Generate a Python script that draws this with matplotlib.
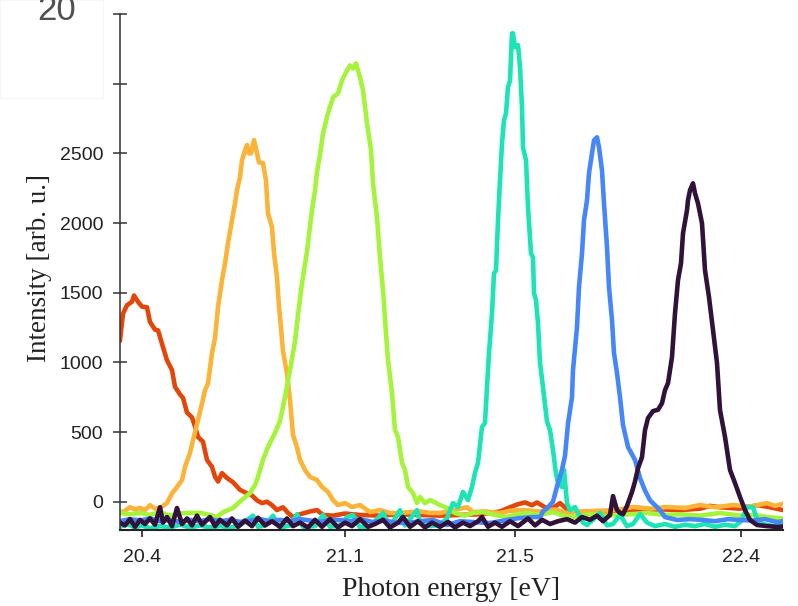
"""
Photoemission spectra: six harmonic peaks vs photon energy.
Values read off the reference picture (x in detector channel units).
"""
import matplotlib
matplotlib.use("Agg")
import matplotlib.pyplot as plt
from matplotlib.patches import Rectangle

plt.rcParams.update({"font.family": "Liberation Sans", "font.size": 14})

# ---------------------------------------------------------------
# data (x = channel, y = intensity in arb. u.)
# ---------------------------------------------------------------
red_x = [120, 123, 127, 132, 134, 138, 142, 147, 150, 155, 158, 163, 167, 172, 175,
         180, 183, 187, 192, 195, 198, 203, 207, 212, 215, 218, 222, 227, 233, 240,
         247, 252, 257, 262, 267, 272, 277, 283, 288, 293, 300, 310, 317, 323, 333,
         345, 360, 380, 400, 420, 440, 460, 480, 500, 510, 517, 525, 532, 537, 545,
         552, 560, 568, 580, 600, 620, 640, 660, 680, 700, 710, 720, 740, 758, 770, 783]
red_y = [1160, 1350, 1410, 1435, 1480, 1435, 1400, 1395, 1290, 1235, 1230, 1110, 1015, 945, 825,
         770, 745, 640, 605, 540, 465, 430, 300, 250, 180, 145, 205, 170, 140, 85,
         60, 45, 10, -10, 0, -25, -60, -40, -80, -110, -90, -70, -60, -95, -100,
         -85, -95, -100, -90, -95, -100, -95, -90, -70, -40, -20, -5, -25, -5, -40,
         -50, -10, -60, -80, -75, -70, -60, -55, -60, -50, -30, -40, -50, -25, -40, -60]

orange_x = [120, 123, 130, 135, 140, 145, 150, 155, 160, 167, 172, 177, 182, 185, 190,
            193, 198, 202, 205, 208, 212, 215, 218, 222, 225, 228, 232, 235, 237, 240,
            242, 245, 247, 249, 251, 254, 257, 259, 263, 266, 268, 272, 274, 277, 279,
            281, 283, 287, 290, 293, 297, 300, 305, 310, 317, 322, 328, 333, 338, 345,
            352, 360, 370, 380, 390, 400, 410, 420, 430, 440, 450, 467, 473, 485, 500,
            510, 523, 540, 555, 567, 580, 600, 617, 633, 650, 667, 685, 700, 715, 733,
            750, 767, 775, 783]
orange_y = [-70, -75, -40, -55, -45, -60, -25, -50, -45, -10, 60, 105, 155, 250, 350,
            440, 585, 705, 800, 850, 1065, 1175, 1395, 1590, 1710, 1855, 2020, 2140, 2235, 2330,
            2450, 2520, 2560, 2500, 2500, 2595, 2500, 2435, 2430, 2305, 2070, 1970, 1785, 1610, 1400,
            1250, 1080, 920, 730, 480, 390, 300, 228, 178, 156, 106, 70, 12, -24, -10,
            -38, -24, -74, -60, -81, -81, -75, -70, -80, -81, -65, -40, -74, -70, -81,
            -65, -60, -70, -55, -81, -70, -65, -60, -38, -50, -38, -45, -24, -40, -24,
            -35, -10, -30, -15]

green_x = [120, 130, 140, 150, 160, 170, 180, 190, 200, 210, 217, 223, 233, 243, 250,
           255, 258, 263, 268, 275, 280, 285, 290, 295, 298, 302, 307, 312, 315, 317,
           320, 323, 328, 333, 338, 342, 347, 350, 353, 356, 360, 363, 367, 371, 373,
           377, 380, 383, 386, 388, 392, 395, 398, 402, 405, 408, 413, 417, 420, 425,
           430, 435, 440, 447, 455, 465, 473, 483, 495, 507, 517, 527, 540, 553, 563,
           573, 590, 605, 620, 647, 665, 680, 700, 720, 740, 755, 767, 783]
green_y = [-80, -90, -80, -95, -75, -100, -85, -80, -80, -95, -110, -75, -45, 20, 62,
           120, 178, 300, 393, 493, 580, 751, 945, 1150, 1340, 1567, 1795, 2092, 2235, 2365,
           2490, 2644, 2787, 2902, 2930, 3023, 3095, 3131, 3109, 3145, 3045, 2952, 2716, 2522, 2285,
           2041, 1754, 1518, 1209, 1017, 780, 514, 465, 279, 228, 106, 62, -10, 34, -10,
           12, -5, -24, -45, -81, -100, -81, -74, -95, -110, -90, -81, -95, -74, -100,
           -110, -90, -100, -95, -81, -95, -90, -100, -81, -100, -95, -110, -120]

teal_x = [120, 127, 135, 142, 150, 160, 170, 180, 190, 200, 210, 220, 230, 240, 253,
          258, 265, 273, 280, 290, 297, 303, 315, 323, 330, 340, 347, 353, 360, 370,
          383, 390, 400, 405, 417, 420, 430, 440, 447, 450, 453, 458, 463, 468, 472,
          475, 478, 482, 485, 487, 489, 492, 494, 496, 498, 500, 502, 504, 506, 508,
          510, 512, 513, 515, 518, 520, 522, 523, 526, 528, 531, 533, 534, 536, 538,
          540, 543, 547, 550, 553, 556, 558, 562, 564, 567, 570, 575, 578, 583, 587,
          593, 600, 607, 613, 620, 627, 633, 640, 647, 655, 665, 675, 685, 695, 705,
          715, 725, 735, 741, 747, 753, 758, 767, 775, 783]
teal_y = [-180, -160, -185, -170, -190, -175, -185, -165, -185, -170, -185, -175, -185, -170, -100,
          -180, -170, -100, -185, -170, -90, -180, -175, -95, -180, -170, -110, -95, -185, -175,
          -81, -180, -60, -170, -60, -146, -175, -165, -120, -60, -10, -38, 70, 12, 106,
          207, 279, 536, 565, 823, 1066, 1352, 1639, 1661, 2020, 2307, 2572, 2737, 2787, 2974,
          3023, 3361, 3361, 3262, 3276, 3120, 2830, 2543, 2450, 2113, 1783, 1754, 1496, 1446, 1281,
          1000, 820, 575, 514, 371, 200, 134, 106, 228, -10, -60, -38, -81, -150, -167,
          -130, -81, -170, -160, -95, -175, -160, -88, -150, -175, -160, -180, -165, -175, -160,
          -180, -165, -175, -140, -38, -40, -150, -167, -175, -170]

blue_x = [120, 130, 140, 150, 160, 170, 180, 190, 200, 210, 220, 230, 240, 250, 260,
          270, 280, 290, 300, 310, 320, 330, 340, 350, 360, 373, 385, 395, 407, 420,
          433, 447, 460, 473, 490, 507, 520, 533, 540, 543, 548, 553, 557, 562, 565,
          568, 572, 573, 577, 579, 582, 584, 587, 589, 592, 594, 597, 599, 602, 604,
          607, 609, 612, 614, 617, 620, 623, 628, 635, 640, 645, 650, 655, 660, 665,
          677, 690, 703, 715, 728, 740, 753, 765, 777, 783]
blue_y = [-140, -125, -135, -120, -140, -130, -145, -130, -140, -125, -140, -130, -145, -135, -125,
          -140, -130, -140, -125, -135, -145, -130, -131, -140, -125, -146, -135, -150, -153, -140,
          -131, -167, -140, -146, -153, -131, -117, -110, -110, -70, -40, 0, 110, 230, 330,
          560, 751, 945, 1253, 1540, 1783, 2020, 2163, 2357, 2500, 2594, 2615, 2543, 2378, 2141,
          1826, 1540, 1303, 1066, 923, 750, 550, 393, 300, 170, 80, 10, -25, -60, -110,
          -131, -125, -131, -140, -125, -131, -135, -125, -146, -140]

purple_x = [120, 125, 130, 135, 140, 145, 150, 155, 160, 163, 167, 172, 177, 182, 187,
            192, 197, 202, 210, 215, 220, 227, 232, 238, 245, 252, 258, 265, 272, 280,
            287, 293, 300, 308, 315, 322, 330, 338, 345, 352, 360, 368, 375, 383, 390,
            398, 403, 410, 418, 425, 432, 440, 448, 455, 463, 470, 478, 482, 488, 495,
            502, 510, 518, 528, 535, 542, 550, 558, 567, 575, 582, 590, 597, 603, 610,
            613, 617, 620, 623, 627, 632, 635, 638, 642, 645, 648, 653, 658, 662, 665,
            668, 672, 675, 678, 681, 683, 687, 688, 690, 693, 695, 698, 702, 705, 709,
            713, 717, 720, 725, 730, 735, 740, 745, 750, 757, 767, 777, 783]
purple_y = [-150, -170, -125, -180, -130, -160, -120, -165, -40, -150, -110, -175, -45, -160, -120,
            -170, -100, -165, -110, -175, -130, -170, -120, -180, -135, -175, -115, -170, -140, -180,
            -120, -175, -150, -185, -130, -180, -125, -185, -150, -175, -125, -180, -160, -130, -185,
            -150, -110, -180, -140, -185, -150, -180, -145, -185, -150, -175, -140, -110, -180, -150,
            -180, -140, -175, -120, -170, -130, -160, -140, -125, -150, -110, -130, -100, -140, -95,
            40, -60, -80, -90, -30, 70, 145, 240, 320, 514, 600, 650, 660, 707, 801,
            851, 1038, 1352, 1590, 1711, 1926, 2092, 2163, 2235, 2285, 2213, 2141, 1998, 1661, 1468,
            1232, 995, 658, 465, 228, 134, 34, -60, -131, -167, -175, -181, -178]

series = [
    (red_x, red_y, "#e4460a"),
    (orange_x, orange_y, "#fbb338"),
    (green_x, green_y, "#a5f43b"),
    (teal_x, teal_y, "#1ce4b4"),
    (blue_x, blue_y, "#4686fb"),
    (purple_x, purple_y, "#30123b"),
]

xtick_pos = [142, 345, 515, 741]
xtick_labels = ["20.4", "21.1", "21.5", "22.4"]
ytick_pos = [0, 500, 1000, 1500, 2000, 2500, 3000, 3500]
# the two top labels sit under the pasted white patch in the reference
ytick_labels = ["0", "500", "1000", "1500", "2000", "2500", "", ""]

# ---------------------------------------------------------------
# figure
# ---------------------------------------------------------------
W, H = 798, 606
fig = plt.figure(figsize=(W / 100, H / 100), dpi=100)
ax = fig.add_axes([120 / W, 1 - 530 / H, 663 / W, 516 / H])

for xs, ys, c in series:
    ax.plot(xs, ys, color=c, lw=3.3)

ax.set_xlim(120, 783)
ax.set_ylim(-203, 3500)
ax.set_xticks(xtick_pos)
ax.set_xticklabels(xtick_labels)
ax.set_yticks(ytick_pos)
ax.set_yticklabels(ytick_labels)

for s in ("top", "right"):
    ax.spines[s].set_visible(False)
ax.spines["left"].set_color("#333333")
ax.spines["left"].set_linewidth(1.1)
ax.spines["bottom"].set_color("#222222")
ax.spines["bottom"].set_linewidth(1.5)

ax.tick_params(axis="y", direction="inout", length=10, width=1.1, pad=7,
               colors="#333333", labelcolor="#222222", labelsize=14)
ax.tick_params(axis="x", direction="out", length=5, width=1.2, pad=9,
               colors="#222222", labelcolor="#222222", labelsize=14)

fig.text(451 / W, 1 - 590 / H, "Photon energy [eV]", family="Liberation Serif",
         fontsize=20, ha="center", va="center", color="#222222")
fig.text(40 / W, 1 - 268 / H, "Intensity [arb. u.]", family="Liberation Serif",
         fontsize=19.5, ha="center", va="center", rotation=90, color="#222222")

# white patch pasted over the top-left corner, with a cut-off "20" on it
fig.add_artist(Rectangle((0, 1 - 98 / H), 102.5 / W, 98 / H, transform=fig.transFigure,
                         facecolor="white", edgecolor="#f6f6f6", lw=0.8, zorder=10))
fig.text(57 / W, 1 - 20 / H, "20", ha="center", va="baseline", fontsize=25,
         color="#505050", zorder=11)

fig.savefig("out.png", dpi=100)
